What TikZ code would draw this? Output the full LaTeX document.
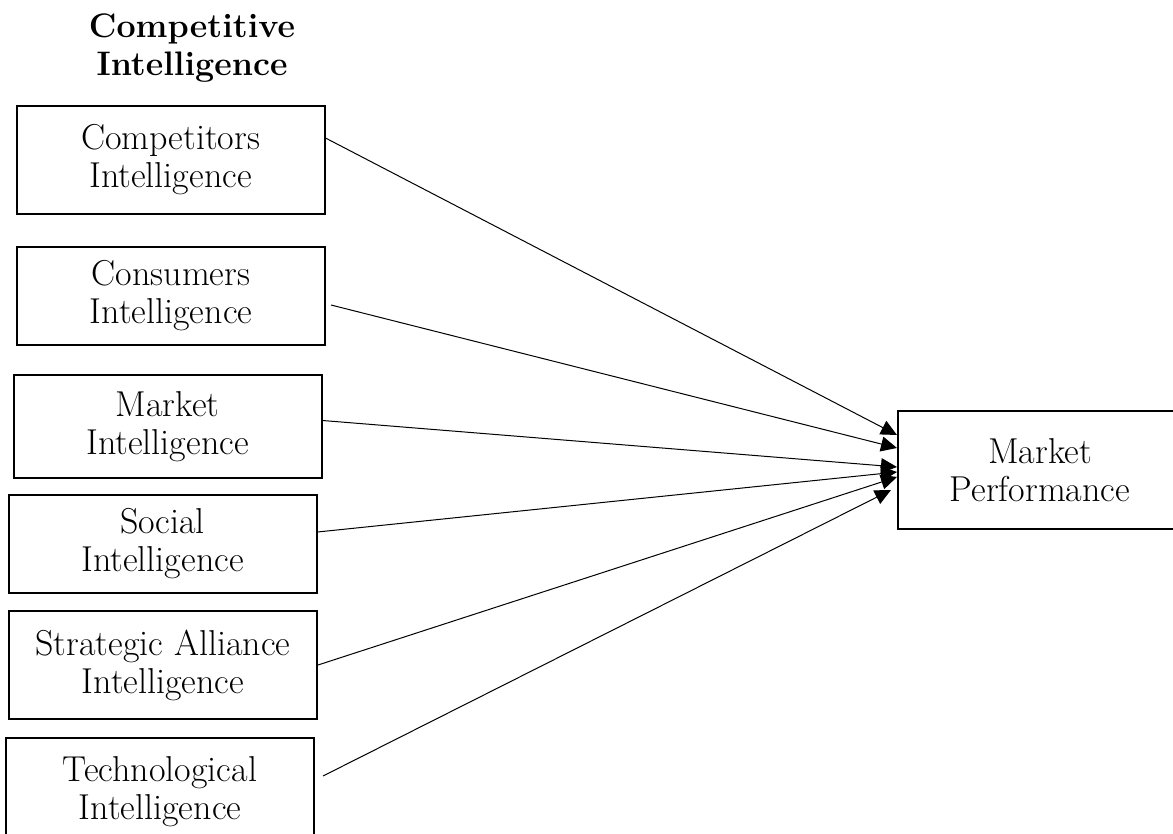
\documentclass[tikz,border=0pt]{standalone}
\usepackage{tikz}
\usetikzlibrary{arrows.meta}
\tikzset{ciblock/.style={rectangle, draw, line width=1pt, minimum width=154pt, align=center, font=\fontsize{18}{19}\selectfont},
  cilink/.style={line width=0.5pt, -{Triangle[length=8pt,width=7.5pt]}}}
\newcommand{\ciblock}[3]{node[ciblock, minimum height=#3](#1) {#2}}

\begin{document}
\begin{tikzpicture}[x=0.5pt, y=-0.5pt]
\useasboundingbox (0,0) rectangle (1173,834);
\draw (192,48) node[align=center, font=\fontsize{17}{19}\selectfont\bfseries](title) {Competitive\\Intelligence} ;
\draw (170.5,160) \ciblock{comp}{Competitors\\Intelligence}{54pt} ;
\draw (171,296) \ciblock{cons}{Consumers\\Intelligence}{49pt} ;
\draw (167.5,426.5) \ciblock{mkt}{Market\\Intelligence}{51.5pt} ;
\draw (162.5,544) \ciblock{soc}{Social\\Intelligence}{49pt} ;
\draw (163,665) \ciblock{sa}{Strategic Alliance\\Intelligence}{54pt} ;
\draw (160,792) \ciblock{tech}{Technological\\Intelligence}{54pt} ;
  \draw (1040,470) node[ciblock, minimum width=142pt, minimum height=59pt](perf) {Market\\Performance} ;
\draw[cilink] ([yshift=11pt]comp.east) -- ([yshift=17.5pt]perf.west) ;
\draw[cilink] ([xshift=2.5pt,yshift=-4.5pt]cons.east) -- ([yshift=11pt]perf.west) ;
\draw[cilink] ([yshift=3pt]mkt.east) -- ([yshift=1.5pt]perf.west) ;
\draw[cilink] ([yshift=6pt]soc.east) -- ([yshift=-1pt]perf.west) ;
\draw[cilink] (sa.east) -- ([yshift=-3.5pt]perf.west) ;
\draw[cilink] ([xshift=4pt,yshift=8pt]tech.east) -- ([xshift=-3pt,yshift=-10pt]perf.west) ;
\end{tikzpicture}
\end{document}
